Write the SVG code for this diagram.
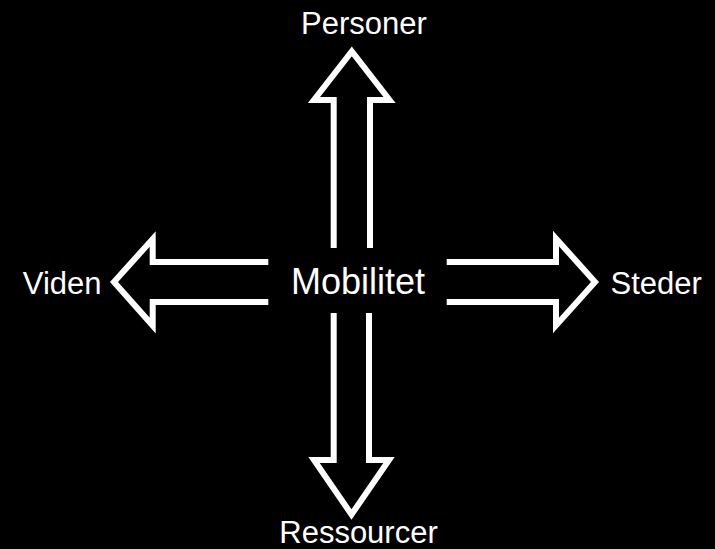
<svg xmlns="http://www.w3.org/2000/svg" width="715" height="549" viewBox="0 0 715 549">
<style>
.arrow{fill:none;stroke:#fff;stroke-width:6;stroke-linejoin:miter;stroke-miterlimit:10;stroke-linecap:butt}
.lbl{fill:#fff;font-family:"Liberation Sans",Arial,sans-serif;font-size:31px;text-anchor:middle}
.center{font-size:36px}
</style>
<rect width="715" height="549" fill="#000"/>
<g id="connectors">
<path id="arrow-up" class="arrow" d="M333.7 248 L333.7 100 L314 100 L351.8 51.5 L389.5 100 L370 100 L370 248"/>
<path id="arrow-down" class="arrow" d="M333.7 313 L333.7 460 L314 460 L351.5 514.5 L389 460 L369 460 L369 313"/>
<path id="arrow-left" class="arrow" d="M268.3 262 L152.7 262 L152.7 239 L114 282 L152.7 325.5 L152.7 302 L268.3 302"/>
<path id="arrow-right" class="arrow" d="M446.7 262 L556 262 L556 238.5 L595 282 L556 325.5 L556 302 L446.7 302"/>
</g>
<g id="node-mobilitet"><text class="lbl center" x="358" y="294.3">Mobilitet</text></g>
<g id="node-personer"><text class="lbl" x="364" y="34.3">Personer</text></g>
<g id="node-ressourcer"><text class="lbl" x="358.5" y="543">Ressourcer</text></g>
<g id="node-viden"><text class="lbl" x="62.2" y="294">Viden</text></g>
<g id="node-steder"><text class="lbl" x="656.2" y="293.5">Steder</text></g>
</svg>
